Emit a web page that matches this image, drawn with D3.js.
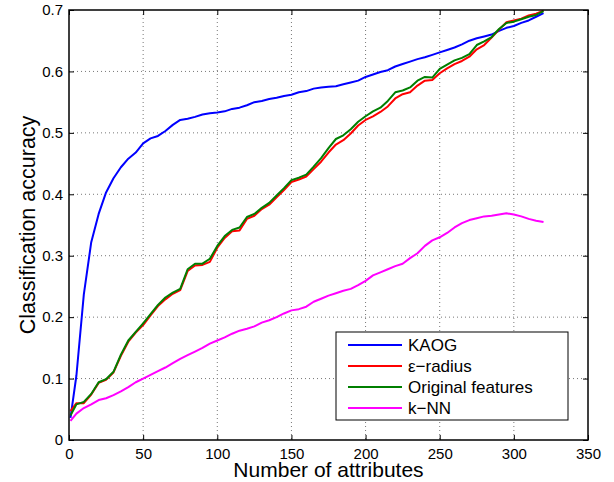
<!DOCTYPE html>
<html>
<head>
<meta charset="utf-8">
<script src="https://cdn.jsdelivr.net/npm/d3@7"></script>
<style>
  body { margin: 0; background: #fff; }
  svg { font-family: "Liberation Sans", Arial, Helvetica, sans-serif; }
</style>
</head>
<body>
<div id="chart"></div>
<script>
// number of attributes (x)
const attributes = [1, 5, 10, 15, 20, 25, 30, 35, 40, 45, 50, 55, 60, 65, 70, 75, 80, 85, 90, 95,
  100, 105, 110, 115, 120, 125, 130, 135, 140, 145, 150, 155, 160, 165, 170, 175, 180, 185, 190, 195,
  200, 205, 210, 215, 220, 225, 230, 235, 240, 245, 250, 255, 260, 265, 270, 275, 280, 285, 290, 295,
  300, 305, 310, 315, 320];

const kaog = [0.036, 0.105, 0.237, 0.322, 0.368, 0.403, 0.426, 0.444, 0.458, 0.468, 0.483, 0.491, 0.495, 0.503, 0.513, 0.521, 0.523, 0.526, 0.530, 0.532,
  0.533, 0.535, 0.539, 0.541, 0.545, 0.550, 0.552, 0.555, 0.557, 0.560, 0.562, 0.566, 0.568, 0.572, 0.574, 0.575, 0.576, 0.579, 0.582, 0.585,
  0.591, 0.595, 0.599, 0.602, 0.608, 0.612, 0.616, 0.620, 0.623, 0.627, 0.631, 0.635, 0.639, 0.644, 0.650, 0.654, 0.657, 0.660, 0.666, 0.671,
  0.674, 0.679, 0.683, 0.689, 0.695];

const epsRadius = [0.047, 0.060, 0.060, 0.074, 0.093, 0.098, 0.110, 0.137, 0.160, 0.175, 0.187, 0.203, 0.218, 0.229, 0.238, 0.244, 0.275, 0.284, 0.285, 0.290,
  0.313, 0.329, 0.340, 0.341, 0.360, 0.365, 0.376, 0.383, 0.395, 0.407, 0.420, 0.424, 0.429, 0.441, 0.453, 0.468, 0.481, 0.488, 0.499, 0.512,
  0.521, 0.527, 0.534, 0.543, 0.556, 0.563, 0.566, 0.577, 0.585, 0.586, 0.597, 0.605, 0.612, 0.617, 0.624, 0.636, 0.643, 0.655, 0.668, 0.680,
  0.683, 0.686, 0.691, 0.694, 0.699];

const original = [0.040, 0.058, 0.062, 0.075, 0.094, 0.099, 0.111, 0.139, 0.162, 0.176, 0.190, 0.205, 0.220, 0.232, 0.240, 0.246, 0.278, 0.287, 0.287, 0.295,
  0.316, 0.332, 0.342, 0.346, 0.363, 0.368, 0.378, 0.386, 0.398, 0.410, 0.423, 0.427, 0.432, 0.445, 0.459, 0.475, 0.490, 0.496, 0.506, 0.518,
  0.527, 0.535, 0.541, 0.552, 0.566, 0.569, 0.574, 0.585, 0.591, 0.590, 0.604, 0.611, 0.618, 0.622, 0.628, 0.643, 0.649, 0.656, 0.669, 0.679,
  0.681, 0.685, 0.689, 0.692, 0.698];

const knn = [0.031, 0.043, 0.052, 0.058, 0.065, 0.068, 0.073, 0.079, 0.086, 0.094, 0.100, 0.106, 0.112, 0.118, 0.125, 0.132, 0.138, 0.144, 0.150, 0.157,
  0.162, 0.167, 0.173, 0.178, 0.181, 0.185, 0.191, 0.195, 0.200, 0.206, 0.211, 0.213, 0.217, 0.225, 0.230, 0.235, 0.239, 0.243, 0.246, 0.252,
  0.259, 0.268, 0.273, 0.278, 0.283, 0.287, 0.296, 0.304, 0.316, 0.325, 0.330, 0.337, 0.346, 0.353, 0.358, 0.361, 0.364, 0.365, 0.367, 0.369,
  0.367, 0.364, 0.360, 0.357, 0.355];

const seriesNames = ["KAOG", "\u03b5\u2212radius", "Original features", "k\u2212NN"];
const seriesColors = ["#0000ff", "#ff0000", "#007f00", "#ff00ff"];
const seriesValues = [kaog, epsRadius, original, knn];

const xTicks = [0, 50, 100, 150, 200, 250, 300, 350];
const yTicks = [0, 0.1, 0.2, 0.3, 0.4, 0.5, 0.6, 0.7];

let w = 614, h = 482;
let margin = { left: 69, top: 10, right: 26, bottom: 42 };
let iw = w - margin.left - margin.right;
let ih = h - margin.top - margin.bottom;

let svg = d3.select("#chart").append("svg")
  .attr("width", w)
  .attr("height", h);

let g = svg.append("g")
  .attr("transform", "translate(" + margin.left + "," + margin.top + ")");

let xScale = d3.scaleLinear().domain([0, 350]).range([0, iw]);
let yScale = d3.scaleLinear().domain([0, 0.7]).range([ih, 0]);

// dotted grid
g.append("g").selectAll("line")
  .data(xTicks.slice(1, -1))
  .enter().append("line")
  .attr("x1", d => xScale(d)).attr("x2", d => xScale(d))
  .attr("y1", 0).attr("y2", ih)
  .attr("stroke", "#777").attr("stroke-width", 1)
  .attr("stroke-dasharray", "1,3");
g.append("g").selectAll("line")
  .data(yTicks.slice(1, -1))
  .enter().append("line")
  .attr("y1", d => yScale(d)).attr("y2", d => yScale(d))
  .attr("x1", 0).attr("x2", iw)
  .attr("stroke", "#777").attr("stroke-width", 1)
  .attr("stroke-dasharray", "1,3");

// curves
let line = d3.line()
  .x((d, i) => xScale(attributes[i]))
  .y(d => yScale(d));

g.append("g").selectAll("path")
  .data(seriesValues)
  .enter().append("path")
  .attr("d", d => line(d))
  .attr("fill", "none")
  .attr("stroke", (d, i) => seriesColors[i])
  .attr("stroke-width", 2)
  .attr("stroke-linejoin", "round");

// axes, MATLAB style: ticks inward on all four sides
let xBottom = g.append("g")
  .attr("transform", "translate(0," + ih + ")")
  .call(d3.axisBottom(xScale).tickValues(xTicks).tickSizeInner(-5).tickSizeOuter(0).tickPadding(8).tickFormat(d3.format("d")));
let xTop = g.append("g")
  .call(d3.axisTop(xScale).tickValues(xTicks).tickSizeInner(-5).tickSizeOuter(0).tickFormat(""));
let yLeft = g.append("g")
  .call(d3.axisLeft(yScale).tickValues(yTicks).tickSizeInner(-5).tickSizeOuter(0).tickPadding(6)
    .tickFormat(d => d === 0 ? "0" : d3.format(".1f")(d)));
let yRight = g.append("g")
  .attr("transform", "translate(" + iw + ",0)")
  .call(d3.axisRight(yScale).tickValues(yTicks).tickSizeInner(-5).tickSizeOuter(0).tickFormat(""));

[xBottom, xTop, yLeft, yRight].forEach(a => {
  a.select(".domain").remove();
  a.selectAll(".tick line").attr("stroke", "#000").attr("stroke-width", 1);
  a.selectAll("text").attr("font-size", "15px").attr("fill", "#000")
    .attr("font-family", "'Liberation Sans', Arial, sans-serif");
});

g.append("rect")
  .attr("x", 0).attr("y", 0)
  .attr("width", iw).attr("height", ih)
  .attr("fill", "none")
  .attr("stroke", "#000")
  .attr("stroke-width", 1.5);

// axis titles
svg.append("text")
  .attr("x", margin.left + iw / 2)
  .attr("y", 477)
  .attr("text-anchor", "middle")
  .attr("font-size", "21px")
  .text("Number of attributes");

svg.append("text")
  .attr("transform", "translate(35," + (margin.top + ih / 2) + ") rotate(-90)")
  .attr("text-anchor", "middle")
  .attr("font-size", "21.5px")
  .text("Classification accuracy");

// legend
let legend = svg.append("g").attr("transform", "translate(336,332)");
legend.append("rect")
  .attr("width", 232).attr("height", 88)
  .attr("fill", "#fff")
  .attr("stroke", "#000")
  .attr("stroke-width", 1);

let items = legend.selectAll("g.item")
  .data(seriesNames)
  .enter().append("g")
  .attr("class", "item")
  .attr("transform", (d, i) => "translate(0," + (13 + i * 21) + ")");

items.append("line")
  .attr("x1", 12).attr("x2", 66)
  .attr("y1", 0).attr("y2", 0)
  .attr("stroke", (d, i) => seriesColors[i])
  .attr("stroke-width", 2);

items.append("text")
  .attr("x", 72)
  .attr("y", 0)
  .attr("dy", "0.35em")
  .attr("font-size", "17px")
  .text(d => d);
</script>
</body>
</html>
